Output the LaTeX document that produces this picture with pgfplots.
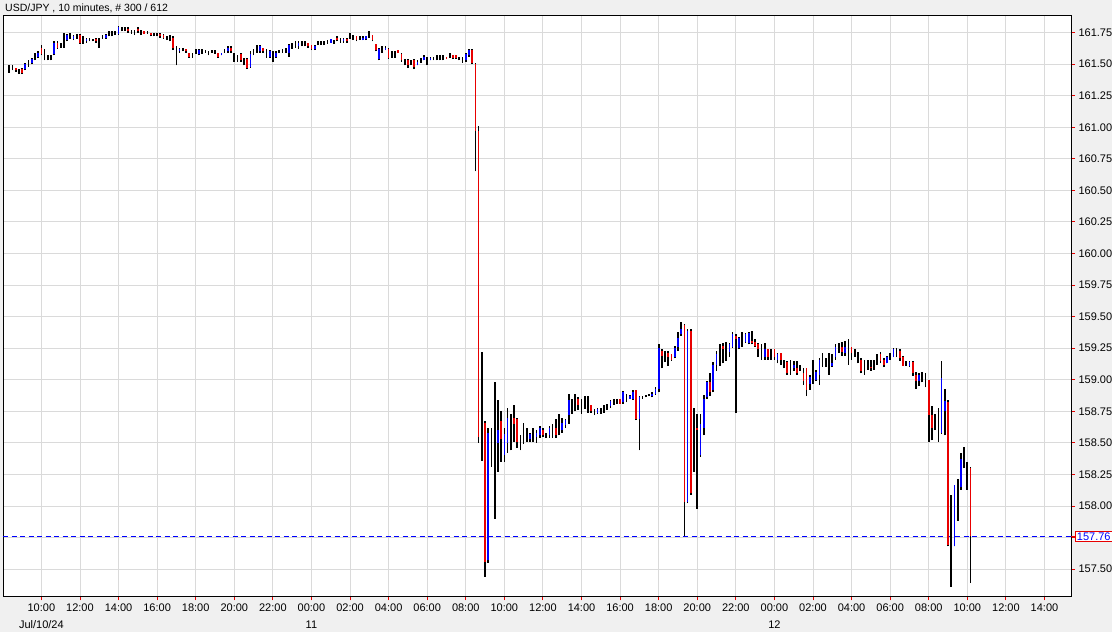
\documentclass[border=0pt]{standalone}
\usepackage{fontspec}
\setmainfont{Liberation Sans}
\usepackage{pgfplots}
\usepackage{pgfplotstable}
\pgfplotsset{compat=1.18}
\definecolor{bg}{RGB}{240,240,240}
\definecolor{gridc}{RGB}{218,218,218}
\definecolor{upc}{RGB}{0,0,255}
\definecolor{dnc}{RGB}{232,0,0}

% x = number of 10-minute bars after 10:00 Jul/10/24 (ET)
\pgfplotstableread{
x o h l c
-10 161.46 161.49 161.43 161.46
-9 161.47 161.49 161.45 161.47
-8 161.47 161.47 161.44 161.45
-7 161.44 161.46 161.42 161.44
-6 161.46 161.47 161.42 161.43
-5 161.46 161.51 161.45 161.50
-4 161.50 161.53 161.48 161.50
-3 161.51 161.55 161.50 161.54
-2 161.56 161.59 161.53 161.56
-1 161.56 161.60 161.55 161.59
0 161.63 161.65 161.57 161.58
1 161.57 161.62 161.53 161.57
2 161.55 161.57 161.53 161.55
3 161.55 161.57 161.53 161.55
4 161.58 161.68 161.57 161.67
5 161.67 161.68 161.62 161.63
6 161.65 161.67 161.63 161.65
7 161.70 161.75 161.63 161.70
8 161.69 161.74 161.68 161.73
9 161.72 161.75 161.70 161.72
10 161.70 161.73 161.69 161.72
11 161.72 161.74 161.70 161.72
12 161.73 161.74 161.66 161.67
13 161.69 161.72 161.66 161.69
14 161.68 161.71 161.67 161.70
15 161.69 161.71 161.68 161.69
16 161.69 161.70 161.68 161.69
17 161.70 161.71 161.67 161.68
18 161.68 161.71 161.63 161.68
19 161.71 161.73 161.70 161.71
20 161.71 161.74 161.70 161.73
21 161.74 161.76 161.72 161.74
22 161.74 161.76 161.72 161.74
23 161.75 161.76 161.73 161.75
24 161.74 161.80 161.73 161.79
25 161.78 161.79 161.76 161.78
26 161.78 161.79 161.76 161.78
27 161.78 161.79 161.75 161.76
28 161.76 161.77 161.74 161.76
29 161.75 161.77 161.73 161.75
30 161.78 161.79 161.75 161.76
31 161.75 161.77 161.73 161.75
32 161.76 161.76 161.74 161.74
33 161.75 161.76 161.74 161.75
34 161.75 161.75 161.72 161.73
35 161.73 161.75 161.72 161.73
36 161.73 161.75 161.72 161.73
37 161.74 161.75 161.71 161.72
38 161.73 161.74 161.70 161.71
39 161.70 161.72 161.69 161.70
40 161.70 161.73 161.68 161.70
41 161.71 161.72 161.61 161.63
42 161.60 161.64 161.49 161.60
43 161.60 161.63 161.59 161.62
44 161.61 161.63 161.60 161.61
45 161.62 161.62 161.59 161.60
46 161.59 161.59 161.55 161.56
47 161.57 161.59 161.55 161.57
48 161.60 161.62 161.58 161.60
49 161.58 161.62 161.57 161.61
50 161.60 161.62 161.58 161.60
51 161.60 161.61 161.59 161.60
52 161.59 161.60 161.57 161.59
53 161.60 161.61 161.59 161.60
54 161.60 161.61 161.58 161.60
55 161.59 161.59 161.55 161.56
56 161.57 161.59 161.57 161.59
57 161.61 161.62 161.59 161.61
58 161.60 161.64 161.59 161.63
59 161.63 161.64 161.59 161.60
60 161.56 161.59 161.52 161.56
61 161.55 161.57 161.52 161.55
62 161.58 161.59 161.52 161.53
63 161.53 161.55 161.49 161.53
64 161.54 161.55 161.46 161.47
65 161.48 161.60 161.47 161.58
66 161.59 161.62 161.57 161.59
67 161.62 161.65 161.59 161.62
68 161.60 161.65 161.59 161.64
69 161.63 161.63 161.59 161.60
70 161.58 161.62 161.55 161.58
71 161.56 161.61 161.55 161.60
72 161.57 161.60 161.52 161.57
73 161.56 161.60 161.55 161.59
74 161.60 161.61 161.59 161.60
75 161.60 161.62 161.59 161.60
76 161.61 161.63 161.59 161.61
77 161.59 161.66 161.56 161.65
78 161.65 161.67 161.62 161.65
79 161.66 161.68 161.63 161.66
80 161.64 161.68 161.62 161.67
81 161.66 161.68 161.64 161.66
82 161.66 161.68 161.64 161.66
83 161.67 161.67 161.63 161.64
84 161.65 161.65 161.61 161.62
85 161.62 161.65 161.61 161.64
86 161.66 161.68 161.65 161.66
87 161.66 161.68 161.65 161.66
88 161.67 161.68 161.65 161.67
89 161.68 161.69 161.66 161.68
90 161.67 161.70 161.67 161.70
91 161.68 161.69 161.66 161.68
92 161.71 161.72 161.68 161.69
93 161.69 161.71 161.67 161.69
94 161.68 161.71 161.67 161.70
95 161.70 161.71 161.67 161.68
96 161.72 161.75 161.70 161.72
97 161.71 161.73 161.69 161.71
98 161.72 161.72 161.68 161.69
99 161.70 161.72 161.69 161.70
100 161.69 161.72 161.69 161.71
101 161.70 161.72 161.69 161.72
102 161.73 161.76 161.71 161.73
103 161.73 161.73 161.68 161.69
104 161.66 161.66 161.60 161.61
105 161.54 161.63 161.53 161.62
106 161.61 161.64 161.59 161.61
107 161.61 161.64 161.61 161.63
108 161.62 161.63 161.54 161.55
109 161.57 161.60 161.55 161.57
110 161.57 161.60 161.55 161.57
111 161.61 161.61 161.59 161.59
112 161.58 161.59 161.52 161.53
113 161.51 161.54 161.49 161.51
114 161.53 161.54 161.47 161.49
115 161.51 161.53 161.49 161.51
116 161.53 161.54 161.46 161.48
117 161.49 161.53 161.49 161.52
118 161.53 161.55 161.51 161.53
119 161.53 161.57 161.53 161.56
120 161.53 161.56 161.49 161.53
121 161.53 161.56 161.53 161.55
122 161.55 161.56 161.53 161.55
123 161.55 161.57 161.53 161.55
124 161.55 161.57 161.53 161.55
125 161.55 161.57 161.53 161.55
126 161.56 161.56 161.54 161.54
127 161.57 161.59 161.55 161.57
128 161.57 161.57 161.54 161.55
129 161.57 161.57 161.54 161.55
130 161.55 161.56 161.53 161.55
131 161.53 161.56 161.51 161.53
132 161.53 161.59 161.52 161.58
133 161.57 161.62 161.56 161.61
134 161.61 161.62 161.50 161.51
135 161.50 161.51 160.65 160.97
136 160.97 161.01 158.50 158.55
137 158.62 159.22 158.36 158.62
138 158.66 158.67 157.44 157.56
139 157.57 158.62 157.55 158.58
140 158.45 158.62 158.31 158.45
141 158.50 158.98 157.90 158.50
142 158.50 158.84 158.27 158.60
143 158.67 158.75 158.35 158.53
144 158.40 158.62 158.35 158.57
145 158.50 158.78 158.42 158.70
146 158.60 158.73 158.44 158.60
147 158.70 158.80 158.51 158.65
148 158.69 158.70 158.46 158.51
149 158.50 158.56 158.44 158.50
150 158.58 158.66 158.49 158.58
151 158.56 158.62 158.51 158.56
152 158.53 158.58 158.51 158.57
153 158.56 158.62 158.51 158.56
154 158.55 158.60 158.50 158.58
155 158.56 158.63 158.54 158.62
156 158.60 158.62 158.55 158.56
157 158.56 158.58 158.54 158.56
158 158.56 158.63 158.54 158.62
159 158.60 158.65 158.54 158.60
160 158.62 158.69 158.54 158.56
161 158.62 158.73 158.56 158.62
162 158.60 158.70 158.58 158.66
163 158.64 158.69 158.62 158.68
164 158.72 158.89 158.65 158.84
165 158.80 158.85 158.73 158.80
166 158.82 158.89 158.75 158.82
167 158.85 158.86 158.76 158.80
168 158.80 158.85 158.73 158.80
169 158.82 158.87 158.77 158.82
170 158.80 158.87 158.74 158.80
171 158.80 158.80 158.74 158.75
172 158.75 158.77 158.72 158.75
173 158.74 158.78 158.73 158.77
174 158.76 158.78 158.73 158.76
175 158.77 158.80 158.74 158.77
176 158.78 158.81 158.76 158.78
177 158.79 158.84 158.78 158.83
178 158.83 158.85 158.80 158.83
179 158.83 158.85 158.81 158.83
180 158.85 158.85 158.81 158.81
181 158.82 158.91 158.81 158.90
182 158.86 158.89 158.82 158.86
183 158.85 158.88 158.85 158.87
184 158.85 158.92 158.84 158.90
185 158.92 158.92 158.68 158.69
186 158.69 158.87 158.44 158.86
187 158.86 158.87 158.85 158.86
188 158.87 158.88 158.86 158.87
189 158.88 158.89 158.87 158.88
190 158.87 158.90 158.86 158.89
191 158.89 158.94 158.88 158.93
192 158.93 159.28 158.90 159.25
193 159.23 159.24 159.09 159.19
194 159.18 159.23 159.14 159.18
195 159.21 159.23 159.11 159.18
196 159.20 159.20 159.15 159.16
197 159.18 159.27 159.17 159.25
198 159.26 159.38 159.23 159.33
199 159.36 159.46 159.35 159.40
200 159.43 159.44 157.76 158.03
201 158.03 159.40 158.02 159.39
202 159.39 159.40 158.09 158.10
203 158.55 158.78 158.27 158.55
204 158.62 158.73 157.98 158.60
205 158.40 158.73 158.39 158.65
206 158.62 158.88 158.56 158.85
207 158.86 158.99 158.85 158.98
208 158.98 159.05 158.87 158.90
209 158.92 159.14 158.90 159.12
210 159.12 159.23 159.07 159.20
211 159.20 159.28 159.11 159.20
212 159.27 159.29 159.13 159.24
213 159.25 159.30 159.15 159.25
214 159.22 159.29 159.18 159.28
215 159.26 159.38 159.25 159.36
216 159.35 159.36 158.74 159.32
217 159.25 159.34 159.24 159.33
218 159.32 159.38 159.26 159.32
219 159.30 159.37 159.29 159.36
220 159.29 159.38 159.28 159.37
221 159.31 159.39 159.28 159.29
222 159.30 159.32 159.26 159.27
223 159.28 159.29 159.18 159.24
224 159.22 159.28 159.16 159.22
225 159.18 159.29 159.16 159.24
226 159.24 159.24 159.16 159.18
227 159.20 159.24 159.16 159.20
228 159.24 159.24 159.16 159.18
229 159.16 159.21 159.13 159.20
230 159.21 159.21 159.12 159.16
231 159.12 159.16 159.09 159.12
232 159.14 159.15 159.04 159.05
233 159.10 159.16 159.04 159.10
234 159.09 159.15 159.07 159.12
235 159.09 159.15 159.04 159.05
236 159.10 159.12 159.07 159.10
237 159.05 159.09 158.96 158.99
238 159.09 159.09 158.87 158.92
239 158.97 159.04 158.92 159.02
240 159.05 159.16 158.97 159.05
241 159.00 159.08 158.99 159.06
242 159.04 159.17 158.96 159.16
243 159.15 159.21 159.10 159.15
244 159.14 159.17 159.10 159.14
245 159.12 159.21 159.04 159.12
246 159.11 159.20 159.10 159.13
247 159.18 159.28 159.16 159.26
248 159.26 159.29 159.21 159.26
249 159.26 159.30 159.19 159.22
250 159.21 159.31 159.19 159.26
251 159.25 159.32 159.12 159.25
252 159.26 159.26 159.16 159.21
253 159.21 159.24 159.18 159.21
254 159.17 159.22 159.13 159.17
255 159.16 159.17 159.05 159.07
256 159.10 159.16 159.04 159.10
257 159.12 159.16 159.08 159.12
258 159.10 159.16 159.07 159.09
259 159.12 159.16 159.08 159.12
260 159.16 159.20 159.12 159.16
261 159.20 159.22 159.13 159.15
262 159.16 159.17 159.10 159.12
263 159.13 159.19 159.13 159.18
264 159.18 159.21 159.16 159.18
265 159.18 159.25 159.18 159.24
266 159.22 159.25 159.18 159.22
267 159.23 159.24 159.15 159.17
268 159.18 159.19 159.11 159.11
269 159.13 159.15 159.11 159.13
270 159.11 159.15 159.10 159.14
271 159.14 159.15 159.03 159.05
272 159.04 159.06 158.93 158.99
273 158.99 159.05 158.95 159.04
274 159.02 159.06 158.98 159.02
275 159.00 159.05 158.94 159.00
276 159.00 159.00 158.51 158.72
277 158.72 158.79 158.52 158.62
278 158.66 158.73 158.60 158.66
279 158.62 158.78 158.51 158.62
280 158.58 159.15 158.57 159.01
281 158.75 158.93 158.56 158.83
282 158.82 158.84 157.68 157.69
283 157.70 158.09 157.36 157.70
284 157.68 158.17 157.68 158.17
285 158.05 158.21 157.88 158.05
286 158.15 158.42 158.13 158.37
287 158.40 158.47 158.30 158.40
288 158.25 158.35 158.13 158.25
289 158.30 158.31 157.39 157.76
}\bars

\begin{document}
\begin{tikzpicture}
\useasboundingbox (0pt,0pt) rectangle (1112pt,632pt);
\fill[bg] (0pt,0pt) rectangle (1112pt,632pt);
\node[anchor=west, inner sep=0pt, font=\fontsize{10.5}{12}\selectfont] at (5pt,624pt) {USD/JPY , 10 minutes, \# 300 / 612};
\begin{axis}[
  at={(3pt,35.6pt)}, anchor=south west,
  scale only axis, width=1068pt, height=580.9pt,
  xmin=-11.94, xmax=320.25, ymin=157.284, ymax=161.885,
  axis background/.style={fill=white},
  axis line style={black, line width=1pt},
  grid=major, major grid style={gridc, line width=0.9pt},
  xtick={0,12,...,312},
  xticklabels={{10:00\\Jul/10/24},12:00,14:00,16:00,18:00,20:00,22:00,{00:00\\11},02:00,04:00,06:00,08:00,10:00,12:00,14:00,16:00,18:00,20:00,22:00,{00:00\\12},02:00,04:00,06:00,08:00,10:00,12:00,14:00},
  ytick={157.50,157.75,158.00,158.25,158.50,158.75,159.00,159.25,159.50,159.75,160.00,160.25,160.50,160.75,161.00,161.25,161.50,161.75},
  yticklabels={157.50,157.75,158.00,158.25,158.50,158.75,159.00,159.25,159.50,159.75,160.00,160.25,160.50,160.75,161.00,161.25,161.50,161.75},
  xtick pos=bottom, ytick pos=right, yticklabel pos=right,
  tick align=outside, major tick length=4pt,
  tick style={dnc, line width=0.9pt},
  ticklabel style={font=\fontsize{11}{17}\selectfont, text=black},
  xticklabel style={align=center},
  extra y ticks={157.76},
  extra y tick labels={157.76},
  extra y tick style={ymajorgrids=false, yticklabel style={text=upc, draw=dnc, fill=white, inner sep=1.5pt, line width=0.8pt}},
  clip=true,
]
\addplot[upc, line width=1pt, dash pattern=on 5pt off 3.5pt, forget plot] coordinates {(-11.94,157.76) (320.25,157.76)};
\addplot[draw=none, mark=none, forget plot,
  error bars/.cd, y dir=plus, y explicit, error mark=none,
  error bar style={draw=black, line width=1.7pt}]
  table[x=x, y=l, y error expr=\thisrow{h}-\thisrow{l}] {\bars};
\addplot[draw=none, mark=none, forget plot,
  restrict expr to domain={\thisrow{c}-\thisrow{o}}{0.001:10},
  error bars/.cd, y dir=plus, y explicit, error mark=none,
  error bar style={draw=upc, line width=1.7pt}]
  table[x=x, y=o, y error expr=\thisrow{c}-\thisrow{o}] {\bars};
\addplot[draw=none, mark=none, forget plot,
  restrict expr to domain={\thisrow{o}-\thisrow{c}}{0.001:10},
  error bars/.cd, y dir=plus, y explicit, error mark=none,
  error bar style={draw=dnc, line width=1.7pt}]
  table[x=x, y=c, y error expr=\thisrow{o}-\thisrow{c}] {\bars};
\end{axis}
\end{tikzpicture}
\end{document}
